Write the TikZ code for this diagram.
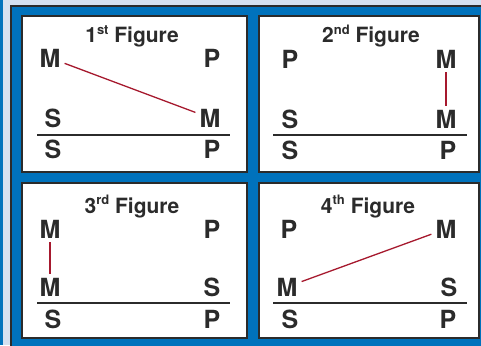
\documentclass[tikz,border=0pt]{standalone}
\usepackage{fontspec}
\setmainfont{TeX Gyre Heros}
\definecolor{frameblue}{HTML}{0072BC}
\definecolor{paleblue}{HTML}{D4E0F0}
\definecolor{edgegray}{HTML}{2B2B2B}
\definecolor{termred}{HTML}{A6192E}
\newcommand{\ordsup}[1]{\raisebox{0.75ex}{\fontsize{13}{13}\selectfont #1}}
\tikzset{
  term/.style={font=\bfseries\fontsize{25}{25}\selectfont, text=edgegray,
    anchor=base, inner xsep=4pt, inner ysep=4pt},
  figtitle/.style={font=\bfseries\fontsize{21}{21}\selectfont, text=edgegray,
    anchor=base},
  panel/.style={fill=white, draw=edgegray, line width=2pt},
  midline/.style={draw=termred, line width=1.3pt},
  barline/.style={draw=edgegray, line width=1.5pt}
}
\begin{document}
\begin{tikzpicture}[x=1pt,y=-1pt]
    \useasboundingbox (0,0) rectangle (481,345);

    % background and frame
    \fill[paleblue] (0,0) rectangle (481,345);
    \fill[frameblue] (0,0) rectangle (3,345);
    \filldraw[fill=frameblue, draw=edgegray, line width=2pt] (11,6) rectangle (495,360);

    % four panels
    \path[panel] (22,16) rectangle (247,172);
    \path[panel] (259,16) rectangle (479,172);
    \path[panel] (22,183) rectangle (247,338);
    \path[panel] (259,183) rectangle (479,338);

    % 1st figure
    \node[figtitle] (t1) at (132,43) {1\ordsup{st} Figure};
    \node[term] (m1) at (50,67) {M};
    \node[term] (p1) at (212,67) {P};
    \node[term] (s1) at (53,127) {S};
    \node[term] (mm1) at (210,127) {M};
    \node[term] (sc1) at (53,158) {S};
    \node[term] (pc1) at (212,158) {P};
    \draw[barline] (37,135) -- (230,135);
    \draw[midline] (m1) -- (mm1);

    % 2nd figure
    \node[figtitle] (t2) at (371,43) {2\ordsup{nd} Figure};
    \node[term] (p2) at (290,68) {P};
    \node[term] (m2) at (446,68) {M};
    \node[term] (s2) at (290,128) {S};
    \node[term] (mm2) at (446,128) {M};
    \node[term] (sc2) at (290,159) {S};
    \node[term] (pc2) at (448,159) {P};
    \draw[barline] (273,135) -- (467,135);
    \draw[midline] (m2) -- (mm2);

    % 3rd figure
    \node[figtitle] (t3) at (132,213) {3\ordsup{rd} Figure};
    \node[term] (m3) at (50,238) {M};
    \node[term] (p3) at (212,238) {P};
    \node[term] (mm3) at (50,296) {M};
    \node[term] (s3) at (212,296) {S};
    \node[term] (sc3) at (53,328) {S};
    \node[term] (pc3) at (212,328) {P};
    \draw[barline] (37,303) -- (230,303);
    \draw[midline] (m3) -- (mm3);

    % 4th figure
    \node[figtitle] (t4) at (368,213) {4\ordsup{th} Figure};
    \node[term] (p4) at (289,238) {P};
    \node[term] (m4) at (446,238) {M};
    \node[term] (mm4) at (287,296) {M};
    \node[term] (s4) at (449,296) {S};
    \node[term] (sc4) at (290,328) {S};
    \node[term] (pc4) at (448,328) {P};
    \draw[barline] (273,303) -- (467,303);
    \draw[midline] (mm4) -- (m4);
\end{tikzpicture}
\end{document}
